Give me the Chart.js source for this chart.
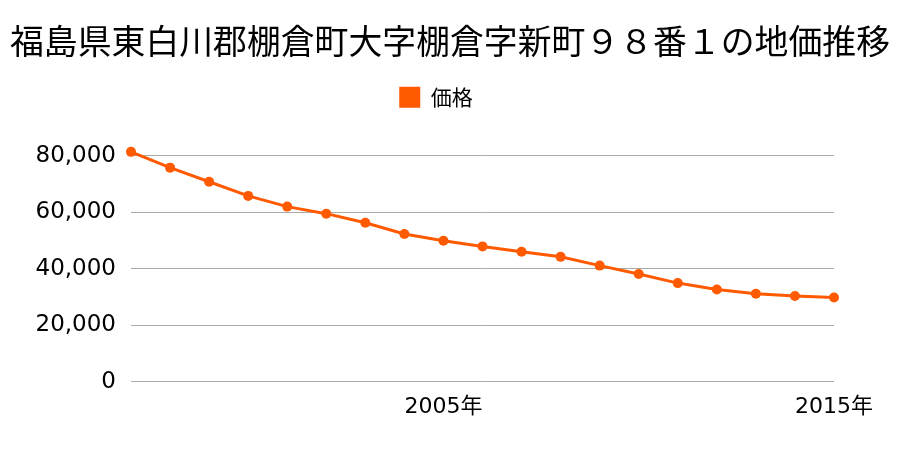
<!DOCTYPE html>
<html>
<head>
<meta charset="utf-8">
<script src="https://cdn.jsdelivr.net/npm/chart.js@4"></script>
<style>
	html, body { margin: 0; padding: 0; background: #fff; }
	#wrap { width: 900px; height: 450px; }
</style>
</head>
<body>
<div id="wrap"><canvas id="PriceChart"></canvas></div>
<script>
// years on the x axis and the land price for each year
const years = ["1997", "1998", "1999", "2000", "2001", "2002", "2003", "2004", "2005", "2006",
	"2007", "2008", "2009", "2010", "2011", "2012", "2013", "2014", "2015"];
const prices = [81400, 75800, 70800, 65800, 62000, 59500, 56300, 52300, 49900, 47900,
	46000, 44200, 41100, 38100, 34900, 32600, 31100, 30300, 29800];
const shown_years = ["2005", "2015"];
const y_ticks = [0, 20000, 40000, 60000, 80000];

const cjk_font = "'Noto Sans CJK JP', sans-serif";
const tick_font = "'DejaVu Sans', 'Noto Sans CJK JP', sans-serif";
const orange = "#ff5a00";

Chart.defaults.font.family = cjk_font;
Chart.defaults.color = "#000";

// room between legend and plot, and nudge the legend a bit left
const legend_tweak = {
	id: "legendTweak",
	beforeInit(chart) {
		const fit = chart.legend.fit;
		chart.legend.fit = function () {
			fit.bind(chart.legend)();
			this.height += 38;
		};
	},
	afterLayout(chart) {
		chart.legend.left -= 14;
		chart.legend.right -= 14;
	},
};

new Chart(document.getElementById("PriceChart").getContext("2d"), {
	type: "line",
	data: {
		labels: years,
		datasets: [
			{
				label: "価格",
				data: prices,
				borderColor: orange,
				backgroundColor: orange,
				borderWidth: 3,
				pointRadius: 5,
				pointHoverRadius: 5,
				pointBackgroundColor: orange,
				pointBorderWidth: 0,
				clip: false,
			},
		],
	},
	options: {
		responsive: true,
		maintainAspectRatio: false,
		animation: false,
		layout: {
			padding: { left: 10, right: 10, top: 0, bottom: 18 },
		},
		scales: {
			x: {
				offset: false,
				grid: { display: false, drawTicks: false },
				border: { display: false },
				afterFit: (scale) => {
					scale.paddingRight = 66;
				},
				ticks: {
					autoSkip: false,
					maxRotation: 0,
					font: { size: 22, family: tick_font },
					padding: 12,
					callback: function (value) {
						const year = this.getLabelForValue(value);
						return shown_years.includes(year) ? year + "年" : "";
					},
				},
			},
			y: {
				min: 0,
				max: 80000,
				afterBuildTicks: function (axis) {
					axis.ticks = y_ticks.map((v) => ({ value: v }));
				},
				afterFit: (scale) => {
					scale.width = 121;
				},
				grid: { color: "#aaaaaa", lineWidth: 1, drawTicks: false },
				border: { display: false },
				ticks: {
					font: { size: 23, family: tick_font },
					padding: 15,
					callback: (v) => v.toLocaleString("en-US"),
				},
			},
		},
		plugins: {
			title: {
				display: true,
				text: "福島県東白川郡棚倉町大字棚倉字新町９８番１の地価推移",
				font: { size: 34, weight: "normal" },
				color: "#000",
				padding: { top: 21, bottom: 15 },
			},
			legend: {
				display: true,
				labels: {
					boxWidth: 21,
					boxHeight: 21,
					padding: 10,
					font: { size: 21 },
					color: "#000",
					generateLabels: (chart) => [
						{
							text: "価格",
							fillStyle: orange,
							strokeStyle: orange,
							lineWidth: 0,
							datasetIndex: 0,
						},
					],
				},
			},
			tooltip: { enabled: false },
		},
	},
	plugins: [legend_tweak],
});
</script>
</body>
</html>
